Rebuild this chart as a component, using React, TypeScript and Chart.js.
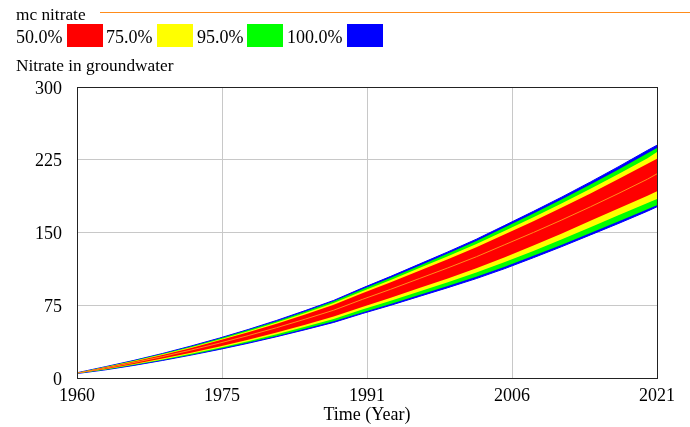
import React, { useEffect, useRef } from "react";
import { Chart, registerables } from "chart.js";

Chart.register(...registerables);

const years = [1960, 1963, 1966, 1969, 1972, 1975, 1978, 1981, 1984, 1987, 1990, 1993, 1996, 1999, 2002, 2005, 2008, 2011, 2014, 2017, 2020, 2021];
const median = [5, 10.2, 15.9, 22.1, 28.8, 36, 43.7, 51.9, 60.7, 69.9, 81, 91.5, 102.5, 113.5, 125, 137.5, 150, 163, 176.5, 190.5, 205, 210.5];
const p50Low = [4.9, 9.2, 14.4, 20.0, 26.1, 32.6, 39.5, 47.0, 54.9, 63.3, 73.3, 82.8, 92.8, 102.7, 113.1, 124.4, 136.5, 149, 162, 175, 188, 192.5];
const p50High = [5.1, 11.0, 17.1, 23.8, 31.0, 38.8, 47.1, 55.9, 65.4, 75.4, 87.3, 98.6, 110.5, 122.4, 134.8, 148.2, 161.7, 175.7, 190.3, 205.4, 221.0, 226];
const p75Low = [4.8, 8.9, 13.8, 19.2, 25.1, 31.3, 38.0, 45.2, 52.8, 60.8, 70.5, 79.6, 89.2, 98.7, 108.8, 119.6, 131, 143, 155.5, 168, 180.5, 184.5];
const p75High = [5.2, 11.3, 17.6, 24.4, 31.8, 39.8, 48.3, 57.3, 67.1, 77.2, 89.5, 101.1, 113.3, 125.4, 138.1, 151.9, 165.8, 180.1, 195.0, 210.5, 226.5, 233];
const p95Low = [4.7, 8.5, 13.3, 18.5, 24.0, 30.1, 36.5, 43.3, 50.7, 58.4, 67.6, 76.4, 85.6, 94.8, 104.4, 114.8, 126, 137.5, 149.5, 161.5, 174, 178];
const p95High = [5.3, 11.5, 18.0, 25.0, 32.5, 40.7, 49.4, 58.6, 68.6, 79.0, 91.5, 103.4, 115.8, 128.3, 141.3, 155.4, 169.5, 184.2, 199.4, 215.3, 231.7, 237];
const p100Low = [4.6, 8.4, 13.0, 18.1, 23.6, 29.5, 35.8, 42.6, 49.8, 57.3, 66.4, 75.0, 84.1, 93.1, 102.5, 112.8, 124, 135.5, 147.5, 159.5, 172, 176.5];
const p100High = [5.4, 11.7, 18.2, 25.3, 33.0, 41.2, 50.0, 59.4, 69.5, 80.0, 92.7, 104.8, 117.4, 130.0, 143.1, 157.4, 171.8, 186.6, 202.1, 218.1, 234.7, 240];

const xTickValues = [1960, 1975.25, 1990.5, 2005.75, 2021];
const yTickValues = [0, 75, 150, 225, 300];
const legendLabels = ["50.0%", "75.0%", "95.0%", "100.0%"];
const legendColors = ["#ff0000", "#ffff00", "#00ff00", "#0000ff"];
const seriesTitle = "mc nitrate";
const yTitle = "Nitrate in groundwater";
const xTitle = "Time (Year)";

const FONT = "'Liberation Serif', 'Times New Roman', serif";
const FS = 18;
const FT = 17.3;
const MEDIAN_COLOR = "#ff8c1a";

const pts = (arr: number[]) => arr.map((y, i) => ({ x: years[i], y }));

const framePlugin = {
  id: "frame",
  afterDraw(chart: any) {
    const { ctx, chartArea } = chart;
    ctx.save();
    ctx.strokeStyle = "#222";
    ctx.lineWidth = 1;
    ctx.strokeRect(
      Math.round(chartArea.left) + 0.5,
      Math.round(chartArea.top) + 0.5,
      Math.round(chartArea.right - chartArea.left),
      Math.round(chartArea.bottom - chartArea.top)
    );
    const ys = chart.scales.y;
    ctx.fillStyle = "#000";
    ctx.font = `${FS}px ${FONT}`;
    ctx.textAlign = "right";
    ctx.textBaseline = "middle";
    yTickValues.forEach((v) => {
      ctx.fillText(String(v), chartArea.left - 15, ys.getPixelForValue(v) + 2);
    });
    ctx.restore();
  },
};

export default function App() {
  const ref = useRef<HTMLCanvasElement | null>(null);

  useEffect(() => {
    if (!ref.current) return;
    const band = (high: number[], low: number[], color: string, order: number, border: number) => [
      {
        data: pts(high),
        borderColor: border ? color : "rgba(0,0,0,0)",
        borderWidth: border,
        backgroundColor: color,
        fill: "+1",
        pointRadius: 0,
        order,
        tension: 0,
      },
      {
        data: pts(low),
        borderColor: border ? color : "rgba(0,0,0,0)",
        borderWidth: border,
        backgroundColor: color,
        fill: false,
        pointRadius: 0,
        order,
        tension: 0,
      },
    ];
    const chart = new Chart(ref.current, {
      type: "line",
      data: {
        datasets: [
          {
            data: pts(median),
            borderColor: MEDIAN_COLOR,
            borderWidth: 1,
            fill: false,
            pointRadius: 0,
            order: 0,
          },
          ...band(p50High, p50Low, legendColors[0], 1, 0),
          ...band(p75High, p75Low, legendColors[1], 2, 0),
          ...band(p95High, p95Low, legendColors[2], 3, 0),
          ...band(p100High, p100Low, legendColors[3], 4, 1),
        ] as any,
      },
      options: {
        animation: false,
        responsive: false,
        devicePixelRatio: 1,
        layout: { padding: { top: 87, right: 33, left: 0, bottom: 0 } },
        plugins: { legend: { display: false }, tooltip: { enabled: false } },
        scales: {
          x: {
            type: "linear",
            min: 1960,
            max: 2021,
            afterBuildTicks: (s: any) => {
              s.ticks = xTickValues.map((v) => ({ value: v }));
            },
            afterFit: (s: any) => {
              s.height = 49;
            },
            ticks: {
              color: "#000",
              font: { family: FONT, size: FS },
              padding: 7,
              maxRotation: 0,
              autoSkip: false,
              callback: (v: any) => String(Math.round(Number(v))),
            },
            grid: { color: "#c8c8c8", drawTicks: false, lineWidth: 1 },
            border: { display: false },
            title: {
              display: true,
              text: xTitle,
              color: "#000",
              font: { family: FONT, size: FS },
              padding: { top: 2, bottom: 1 },
            },
          },
          y: {
            type: "linear",
            min: 0,
            max: 300,
            afterBuildTicks: (s: any) => {
              s.ticks = yTickValues.map((v) => ({ value: v }));
            },
            afterFit: (s: any) => {
              s.width = 77;
            },
            ticks: { display: false },
            grid: { color: "#c8c8c8", drawTicks: false, lineWidth: 1 },
            border: { display: false },
          },
        },
      },
      plugins: [framePlugin],
    });
    return () => chart.destroy();
  }, []);

  const text: React.CSSProperties = {
    position: "absolute",
    fontFamily: FONT,
    fontSize: FS,
    lineHeight: `${FS}px`,
    color: "#000",
    whiteSpace: "nowrap",
  };
  const titleText: React.CSSProperties = { ...text, fontSize: FT };
  const textLefts = [16, 106, 197, 287];
  const boxLefts = [67, 157, 247, 347];

  return (
    <div style={{ position: "absolute", left: 0, top: 0, width: 690, height: 427, background: "#fff", overflow: "hidden" }}>
      <canvas ref={ref} width={690} height={427} style={{ position: "absolute", left: 0, top: 0, width: 690, height: 427 }} />
      <div style={{ ...titleText, left: 16, top: 6 }}>{seriesTitle}</div>
      <div style={{ position: "absolute", left: 100, top: 12, width: 590, height: 1, background: MEDIAN_COLOR }} />
      {legendLabels.map((l, i) => (
        <React.Fragment key={l}>
          <div style={{ ...text, left: textLefts[i], top: 28 }}>{l}</div>
          <div style={{ position: "absolute", left: boxLefts[i], top: 24, width: 36, height: 23, background: legendColors[i] }} />
        </React.Fragment>
      ))}
      <div style={{ ...titleText, left: 16, top: 57 }}>{yTitle}</div>
    </div>
  );
}
